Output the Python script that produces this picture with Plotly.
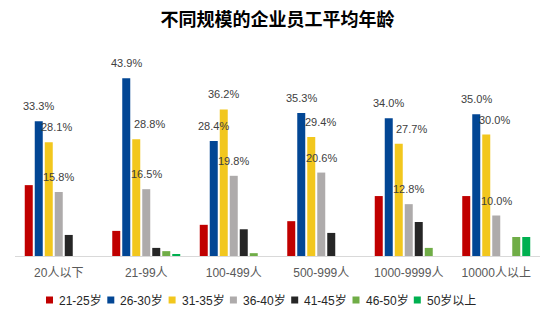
import plotly.graph_objects as go

categories = ["20人以下", "21-99人", "100-499人", "500-999人", "1000-9999人", "10000人以上"]
series_names = ["21-25岁", "26-30岁", "31-35岁", "36-40岁", "41-45岁", "46-50岁", "50岁以上"]

age_21_25 = [17.5, 6.2, 7.7, 8.6, 14.8, 14.8]
age_26_30 = [33.3, 43.9, 28.4, 35.3, 34.0, 35.0]
age_31_35 = [28.1, 28.8, 36.2, 29.4, 27.7, 30.0]
age_36_40 = [15.8, 16.5, 19.8, 20.6, 12.8, 10.0]
age_41_45 = [5.2, 2.0, 6.6, 5.7, 8.4, None]
age_46_50 = [None, 1.2, 0.7, None, 2.0, 4.7]
age_50_up = [None, 0.5, None, None, None, 4.7]

series_values = [age_21_25, age_26_30, age_31_35, age_36_40, age_41_45, age_46_50, age_50_up]
colors = ["#C00000", "#024694", "#F2C71E", "#AEABAB", "#262626", "#70AD47", "#00B050"]
labeled_series = [1, 2, 3]  # series that carry value labels
yellow_label_nudge = [8, 13, 0, 9, 13, 8]  # px, style only

FONT = "Liberation Sans, Arial, Noto Sans CJK SC, sans-serif"
CJK = "Noto Sans CJK SC, sans-serif"

W, H = 554, 323
ML, MR, MT, MB = 15, 14, 60, 67
PW, PH = W - ML - MR, H - MT - MB

fig = go.Figure()
for name, vals, col in zip(series_names, series_values, colors):
    fig.add_trace(go.Bar(x=categories, y=vals, name=name, marker_color=col,
                         marker_line_width=0, showlegend=False))

n = len(series_names)
slot_px = PW / len(categories) * 0.8 / n
annotations = []
for k in labeled_series:
    for i, (cat, v) in enumerate(zip(categories, series_values[k])):
        if v is None:
            continue
        shift = (k - (n - 1) / 2) * slot_px
        if k == 2:
            shift += yellow_label_nudge[i]
        annotations.append(dict(x=cat, y=v, xref="x", yref="y", text=f"{v:.1f}%",
                                showarrow=False, xshift=shift, yshift=15, yanchor="middle",
                                font=dict(family=FONT, size=11, color="#404040")))

# custom legend
leg_x0, leg_pitch, leg_y = 46, 61.3, 300
shapes = []
for j, (name, col) in enumerate(zip(series_names, colors)):
    px = leg_x0 + j * leg_pitch
    shapes.append(dict(type="rect", xref="paper", yref="paper",
                       x0=(px - ML) / PW, x1=(px + 7 - ML) / PW,
                       y0=(MT + PH - leg_y - 3.5) / PH, y1=(MT + PH - leg_y + 3.5) / PH,
                       fillcolor=col, line=dict(width=0)))
    annotations.append(dict(x=(px + 11 - ML) / PW, y=(MT + PH - leg_y) / PH, xref="paper", yref="paper",
                            text=name, showarrow=False, xanchor="left", yanchor="middle",
                            font=dict(family=FONT, size=12, color="#262626")))

fig.update_layout(
    width=W, height=H,
    margin=dict(l=ML, r=MR, t=MT, b=MB),
    paper_bgcolor="white", plot_bgcolor="white",
    barmode="group", bargap=0.2, bargroupgap=0.2,
    title=dict(text="<b>不同规模的企业员工平均年龄</b>", x=0.5, xref="paper", xanchor="center",
               y=1 - 20 / H, yanchor="middle",
               font=dict(family=CJK, size=18, color="#000000")),
    xaxis=dict(showline=True, linecolor="#D9D9D9", linewidth=1, ticks="",
               ticklabelstandoff=6,
               showgrid=False, tickfont=dict(family=FONT, size=12, color="#595959")),
    yaxis=dict(visible=False, range=[0, PH / 4.05], showgrid=False, zeroline=False),
    annotations=annotations, shapes=shapes,
)

fig.write_html("out.html")
